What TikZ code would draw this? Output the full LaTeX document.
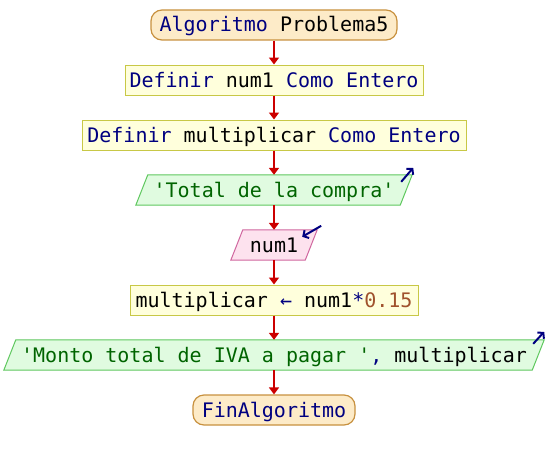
\documentclass[tikz,border=0pt]{standalone}
\usepackage{fontspec}
\newfontfamily\codefont{DejaVu Sans Mono}
\usetikzlibrary{arrows.meta,calc,backgrounds}

\definecolor{kwcol}{HTML}{000080}
\definecolor{strcol}{HTML}{006400}
\definecolor{numcol}{HTML}{A0522D}
\definecolor{termfill}{HTML}{FDEBC8}
\definecolor{termdraw}{HTML}{C8913F}
\definecolor{procfill}{HTML}{FFFFDC}
\definecolor{procdraw}{HTML}{C8C846}
\definecolor{outfill}{HTML}{E0FBE0}
\definecolor{outdraw}{HTML}{5FC85F}
\definecolor{infill}{HTML}{FDE2EE}
\definecolor{indraw}{HTML}{D0679F}
\definecolor{flowcol}{HTML}{CC0000}

% syntax colouring of the pseudocode
\newcommand\kwd[1]{\textcolor{kwcol}{#1}}
\newcommand\strtxt[1]{\textcolor{strcol}{#1}}
\newcommand\numtxt[1]{\textcolor{numcol}{#1}}
\newcommand\qt{\textquotesingle}

% slanted data box drawn around a rectangular text node
\newcommand\slantbox[3]{%
  \filldraw[#1] ($(#2.south west)+(-#3,0)$) -- ($(#2.north west)+(#3,0)$)
    -- ($(#2.north east)+(#3,0)$) -- ($(#2.south east)+(-#3,0)$) -- cycle;}

\tikzset{
  base/.style={font=\codefont\fontsize{20}{24}\selectfont, inner sep=0pt,
    minimum height=30pt, text height=16pt, text depth=2pt, anchor=center},
  term/.style={base, draw=termdraw, fill=termfill, line width=1.2pt, rounded corners=11pt},
  proc/.style={base, draw=procdraw, fill=procfill, line width=1pt},
  iobox/.style={base},
  outshape/.style={draw=outdraw, fill=outfill, line width=1pt},
  inshape/.style={draw=indraw, fill=infill, line width=1pt},
  flow/.style={draw=flowcol, line width=2pt, -{Triangle[width=10pt,length=7pt]}},
  iconarrow/.style={draw=kwcol, line width=2pt, -{Straight Barb[length=4pt,width=9pt]}}
}

\begin{document}
\begin{tikzpicture}[x=1pt,y=-1pt]
  \useasboundingbox (0,0) rectangle (548,460);

  \node[term, minimum width=246pt] (start) at (274,25) {\kwd{Algoritmo} Problema5};
  \node[proc, minimum width=298pt] (def1) at (274,80) {\kwd{Definir} num1 \kwd{Como Entero}};
  \node[proc, minimum width=384pt] (def2) at (274,135) {\kwd{Definir} multiplicar \kwd{Como Entero}};
  \node[iobox, minimum width=264pt] (out1) at (274,190) {\strtxt{\qt Total de la compra\qt}};
  \node[iobox, minimum width=74pt] (in1) at (274,245) {num1};
  \node[proc, minimum width=288pt] (calc1) at (274,300) {multiplicar \kwd{←} num1\kwd{*}\numtxt{0.15}};
  \node[iobox, minimum width=528pt] (out2) at (274,355) {\strtxt{\qt Monto total de IVA a pagar \qt}\kwd{,} multiplicar};
  \node[term, minimum width=162pt] (stop) at (274,410) {\kwd{FinAlgoritmo}};

  \begin{pgfonlayer}{background}
    \fill[white] (0,0) rectangle (548,460);
    \slantbox{outshape}{out1}{6}
    \slantbox{inshape}{in1}{6}
    \slantbox{outshape}{out2}{6}
  \end{pgfonlayer}

  % flow between the steps
  \draw[flow] (start.south) -- (def1.north);
  \draw[flow] (def1.south) -- (def2.north);
  \draw[flow] (def2.south) -- (out1.north);
  \draw[flow] (out1.south) -- (in1.north);
  \draw[flow] (in1.south) -- (calc1.north);
  \draw[flow] (calc1.south) -- (out2.north);
  \draw[flow] (out2.south) -- (stop.north);

  % output / input markers
  \coordinate (o1a) at ($(out1.north east)+(-5,7)$);
  \coordinate (o1b) at ($(out1.north east)+(7,-7)$);
  \coordinate (i1a) at ($(in1.north east)+(10,-4)$);
  \coordinate (i1b) at ($(in1.north east)+(-9,7)$);
  \coordinate (o2a) at ($(out2.north east)+(-5,4)$);
  \coordinate (o2b) at ($(out2.north east)+(6,-8)$);
  \draw[iconarrow] (o1a) -- (o1b);
  \draw[iconarrow] (i1a) -- (i1b);
  \draw[iconarrow] (o2a) -- (o2b);
\end{tikzpicture}
\end{document}
